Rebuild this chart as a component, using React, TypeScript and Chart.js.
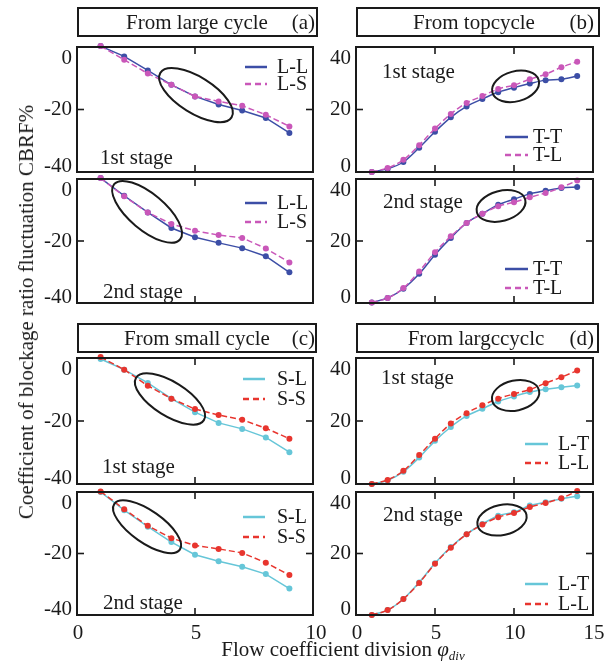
import React, { useEffect, useRef } from "react";
import { Chart, registerables } from "chart.js";
Chart.register(...registerables);

const W = 616;
const H = 668;
const FONT = '"Liberation Serif", "Times New Roman", serif';

// ---- data ----
const xLeft = [1, 2, 3, 4, 5, 6, 7, 8, 9];
const xRight = [1, 2, 3, 4, 5, 6, 7, 8, 9, 10, 11, 12, 13, 14];

// (a) From large cycle
const a1LL = [0.3, -3.0, -7.5, -12.1, -15.8, -18.4, -20.3, -22.7, -27.5];
const a1LS = [0.3, -4.1, -8.5, -12.1, -15.8, -17.4, -18.8, -21.7, -25.4];
const a2LL = [0.3, -5.4, -10.8, -15.8, -18.8, -20.6, -22.3, -24.9, -30.1];
const a2LS = [0.3, -5.6, -10.8, -14.5, -16.7, -18.1, -19.0, -22.4, -26.9];

// (b) From topcycle
const b1TT = [0, 1.0, 3.2, 7.8, 12.9, 17.5, 21.0, 23.4, 25.5, 27.0, 28.3, 29.4, 29.7, 30.7];
const b1TL = [0, 1.3, 3.9, 8.6, 13.9, 18.6, 22.1, 24.3, 26.6, 27.8, 29.7, 31.3, 33.5, 35.3];
const b2TT = [0.2, 1.6, 4.6, 9.4, 15.6, 21.0, 25.8, 28.8, 31.7, 33.5, 35.2, 36.2, 37.1, 37.4];
const b2TL = [0.2, 1.6, 4.8, 10.2, 16.4, 21.5, 25.8, 28.8, 31.2, 32.5, 34.1, 35.5, 37.3, 39.5];

// (c) From small cycle
const c1SL = [-0.3, -3.7, -7.9, -12.9, -17.2, -20.6, -22.5, -25.2, -29.9];
const c1SS = [0.3, -3.7, -8.8, -12.9, -16.2, -18.1, -19.6, -22.3, -25.6];
const c2SL = [0, -5.9, -11.3, -16.3, -20.4, -22.5, -24.3, -26.7, -31.4];
const c2SS = [0.2, -5.6, -11.0, -15.0, -17.4, -18.5, -19.8, -23.0, -27.0];

// (d) From largccyclc
const d1LT = [0, 1.1, 3.9, 8.4, 13.7, 18.1, 21.6, 23.9, 26.2, 27.8, 29.2, 30.1, 30.7, 31.3];
const d1LL = [0, 1.3, 4.2, 9.2, 14.4, 19.2, 22.5, 25.0, 27.1, 28.6, 30.0, 32.0, 33.9, 36.0];
const d2LT = [0, 1.6, 5.2, 10.6, 16.8, 22.1, 26.3, 29.6, 32.3, 33.4, 35.6, 36.7, 37.8, 38.6];
const d2LL = [0, 1.6, 5.2, 10.4, 16.7, 21.9, 26.3, 29.4, 31.8, 33.2, 35.1, 36.4, 38.0, 40.3];

const leftYTicks = [0, -20, -40];
const rightYTicks = [40, 20, 0];
const leftXTicks = [0, 5, 10];
const rightXTicks = [0, 5, 10, 15];

const BLUE = "#3c4ea6";
const MAGENTA = "#c957b9";
const CYAN = "#66c6d8";
const RED = "#e8352e";

type Series = { label: string; x: number[]; y: number[]; color: string; dashed: boolean };
type Panel = {
  l: number; t: number; r: number; b: number;
  xMax: number; yMin: number; yMax: number;
  xTicks: number[]; yTicks: number[];
  showX: boolean;
  series: Series[];
  stage: string; stageX: number; stageY: number;
  leg: { x0: number; x1: number; tx: number; y1: number; y2: number };
  ell: { cx: number; cy: number; a: number; b: number; ang: number };
};

const L = { l: 77, r: 313, xMax: 10, yMin: -40, yMax: 0, xTicks: leftXTicks, yTicks: leftYTicks };
const R = { l: 356, r: 593, xMax: 15, yMin: 0, yMax: 40, xTicks: rightXTicks, yTicks: rightYTicks };
const rows = [
  { t: 47, b: 172 },
  { t: 179, b: 303 },
  { t: 358, b: 484 },
  { t: 492, b: 615 },
];

const panels: Panel[] = [
  {
    ...L, ...rows[0], showX: false,
    series: [
      { label: "L-L", x: xLeft, y: a1LL, color: BLUE, dashed: false },
      { label: "L-S", x: xLeft, y: a1LS, color: MAGENTA, dashed: true },
    ],
    stage: "1st stage", stageX: 100, stageY: 158,
    leg: { x0: 245, x1: 267, tx: 277, y1: 67, y2: 84 },
    ell: { cx: 5.04, cy: -15.4, a: 42, b: 18, ang: 32 },
  },
  {
    ...L, ...rows[1], showX: false,
    series: [
      { label: "L-L", x: xLeft, y: a2LL, color: BLUE, dashed: false },
      { label: "L-S", x: xLeft, y: a2LS, color: MAGENTA, dashed: true },
    ],
    stage: "2nd stage", stageX: 103, stageY: 292,
    leg: { x0: 245, x1: 267, tx: 277, y1: 203, y2: 222 },
    ell: { cx: 2.97, cy: -10.6, a: 43, b: 18, ang: 40 },
  },
  {
    ...L, ...rows[2], showX: false,
    series: [
      { label: "S-L", x: xLeft, y: c1SL, color: CYAN, dashed: false },
      { label: "S-S", x: xLeft, y: c1SS, color: RED, dashed: true },
    ],
    stage: "1st stage", stageX: 102, stageY: 467,
    leg: { x0: 243, x1: 265, tx: 277, y1: 379, y2: 399 },
    ell: { cx: 3.94, cy: -13.0, a: 40, b: 17, ang: 32 },
  },
  {
    ...L, ...rows[3], showX: true,
    series: [
      { label: "S-L", x: xLeft, y: c2SL, color: CYAN, dashed: false },
      { label: "S-S", x: xLeft, y: c2SS, color: RED, dashed: true },
    ],
    stage: "2nd stage", stageX: 103, stageY: 603,
    leg: { x0: 243, x1: 265, tx: 277, y1: 517, y2: 537 },
    ell: { cx: 2.97, cy: -11.3, a: 40, b: 16, ang: 35 },
  },
  {
    ...R, ...rows[0], showX: false,
    series: [
      { label: "T-T", x: xRight, y: b1TT, color: BLUE, dashed: false },
      { label: "T-L", x: xRight, y: b1TL, color: MAGENTA, dashed: true },
    ],
    stage: "1st stage", stageX: 382, stageY: 72,
    leg: { x0: 505, x1: 528, tx: 533, y1: 137, y2: 155 },
    ell: { cx: 10.1, cy: 27.4, a: 24, b: 15, ang: -15 },
  },
  {
    ...R, ...rows[1], showX: false,
    series: [
      { label: "T-T", x: xRight, y: b2TT, color: BLUE, dashed: false },
      { label: "T-L", x: xRight, y: b2TL, color: MAGENTA, dashed: true },
    ],
    stage: "2nd stage", stageX: 383, stageY: 202,
    leg: { x0: 505, x1: 528, tx: 533, y1: 269, y2: 288 },
    ell: { cx: 9.18, cy: 31.3, a: 25, b: 15, ang: -15 },
  },
  {
    ...R, ...rows[2], showX: false,
    series: [
      { label: "L-T", x: xRight, y: d1LT, color: CYAN, dashed: false },
      { label: "L-L", x: xRight, y: d1LL, color: RED, dashed: true },
    ],
    stage: "1st stage", stageX: 381, stageY: 378,
    leg: { x0: 525, x1: 548, tx: 558, y1: 444, y2: 463 },
    ell: { cx: 10.1, cy: 28.1, a: 24, b: 15, ang: -12 },
  },
  {
    ...R, ...rows[3], showX: true,
    series: [
      { label: "L-T", x: xRight, y: d2LT, color: CYAN, dashed: false },
      { label: "L-L", x: xRight, y: d2LL, color: RED, dashed: true },
    ],
    stage: "2nd stage", stageX: 383, stageY: 515,
    leg: { x0: 525, x1: 548, tx: 558, y1: 584, y2: 604 },
    ell: { cx: 9.24, cy: 30.9, a: 25, b: 15, ang: -12 },
  },
];

const DASH = [6, 3];

function makeDecor(p: Panel) {
  return {
    id: "decor",
    afterDatasetsDraw(chart: any) {
      const ctx: CanvasRenderingContext2D = chart.ctx;
      const xs = chart.scales.x;
      const ys = chart.scales.y;
      const { left, right, top, bottom } = chart.chartArea;
      ctx.save();
      ctx.strokeStyle = "#1a1a1a";
      ctx.fillStyle = "#1a1a1a";
      ctx.setLineDash([]);
      const line = (x0: number, y0: number, x1: number, y1: number) => {
        ctx.beginPath();
        ctx.moveTo(x0, y0);
        ctx.lineTo(x1, y1);
        ctx.stroke();
      };
      // ellipse
      ctx.lineWidth = 2;
      ctx.beginPath();
      ctx.ellipse(
        xs.getPixelForValue(p.ell.cx),
        ys.getPixelForValue(p.ell.cy),
        p.ell.a, p.ell.b, (p.ell.ang * Math.PI) / 180, 0, Math.PI * 2
      );
      ctx.stroke();
      // inward ticks
      ctx.lineWidth = 1.6;
      p.xTicks.forEach((v) => {
        if (v <= 0 || v >= p.xMax) return;
        const x = xs.getPixelForValue(v);
        line(x, top, x, top + 7);
        line(x, bottom, x, bottom - 7);
      });
      p.yTicks.forEach((v) => {
        if (v <= p.yMin || v >= p.yMax) return;
        const y = ys.getPixelForValue(v);
        line(left, y, left + 7, y);
        line(right, y, right - 7, y);
      });
      // frame
      ctx.lineWidth = 2;
      ctx.strokeRect(left, top, right - left, bottom - top);
      // y tick labels (end labels nudged inward)
      ctx.font = `21px ${FONT}`;
      ctx.textAlign = "right";
      ctx.textBaseline = "middle";
      p.yTicks.forEach((v) => {
        let y = ys.getPixelForValue(v);
        if (v === p.yMax) y += 11;
        else if (v === p.yMin) y -= 6;
        ctx.fillText(String(v), left - 5, y);
      });
      // x tick labels
      if (p.showX) {
        ctx.textAlign = "center";
        p.xTicks.forEach((v) => {
          ctx.fillText(String(v), xs.getPixelForValue(v) + (v === p.xMax && p.xMax === 10 ? 3 : 1), bottom + 18);
        });
      }
      // stage label
      ctx.textAlign = "left";
      ctx.font = `21px ${FONT}`;
      ctx.fillText(p.stage, p.stageX, p.stageY);
      // legend
      const ly = [p.leg.y1, p.leg.y2];
      p.series.forEach((s, i) => {
        ctx.strokeStyle = s.color;
        ctx.lineWidth = 2.5;
        ctx.setLineDash(s.dashed ? [6, 4] : []);
        line(p.leg.x0, ly[i], p.leg.x1, ly[i]);
        ctx.setLineDash([]);
        ctx.fillStyle = "#1a1a1a";
        ctx.font = `20px ${FONT}`;
        ctx.fillText(s.label, p.leg.tx, ly[i] + 1);
      });
      ctx.restore();
    },
  };
}

function PanelChart({ p }: { p: Panel }) {
  const ref = useRef<HTMLCanvasElement>(null);
  useEffect(() => {
    if (!ref.current) return;
    const smooth = p.xMax === 15;
    const chart = new Chart(ref.current, {
      type: "line",
      data: {
        datasets: p.series.map((s) => ({
          label: s.label,
          data: s.x.map((x, k) => ({ x, y: s.y[k] })),
          borderColor: s.color,
          backgroundColor: s.color,
          borderWidth: 1.5,
          borderDash: s.dashed ? DASH : [],
          pointRadius: 3,
          pointBorderWidth: 0,
          pointBackgroundColor: s.color,
          tension: smooth ? 0.4 : 0,
          cubicInterpolationMode: smooth ? "monotone" : "default",
          clip: false,
          order: s.dashed ? 0 : 1,
        })),
      } as any,
      options: {
        responsive: false,
        animation: false,
        events: [],
        layout: { padding: { left: p.l, top: p.t, right: W - p.r, bottom: H - p.b } },
        scales: {
          x: { type: "linear", min: 0, max: p.xMax, display: false },
          y: { type: "linear", min: p.yMin, max: p.yMax, display: false },
        },
        plugins: { legend: { display: false }, tooltip: { enabled: false } },
      },
      plugins: [makeDecor(p)],
    } as any);
    return () => chart.destroy();
  }, [p]);
  return (
    <canvas
      ref={ref}
      width={W}
      height={H}
      style={{ position: "absolute", left: 0, top: 0, width: W, height: H }}
    />
  );
}

const headers = [
  { l: 77, t: 7, r: 318, b: 37, title: "From large cycle", cx: 197, tag: "(a)", tr: 315 },
  { l: 356, t: 7, r: 600, b: 37, title: "From topcycle", cx: 474, tag: "(b)", tr: 594 },
  { l: 77, t: 323, r: 317, b: 353, title: "From small cycle", cx: 197, tag: "(c)", tr: 315 },
  { l: 356, t: 323, r: 599, b: 353, title: "From largccyclc", cx: 476, tag: "(d)", tr: 594 },
];

export default function App() {
  return (
    <div
      style={{
        position: "fixed", left: 0, top: 0, width: W, height: H,
        background: "#fff", fontFamily: FONT, color: "#1a1a1a", overflow: "hidden",
      }}
    >
      {panels.map((p, i) => (
        <PanelChart key={i} p={p} />
      ))}
      {headers.map((h, i) => (
        <React.Fragment key={i}>
          <div
            style={{
              position: "absolute", left: h.l, top: h.t, width: h.r - h.l, height: h.b - h.t,
              border: "2px solid #1a1a1a", boxSizing: "border-box",
            }}
          />
          <div
            style={{
              position: "absolute", left: h.cx, top: h.t, height: h.b - h.t, lineHeight: `${h.b - h.t}px`,
              transform: "translateX(-50%)", fontSize: 21, whiteSpace: "nowrap",
            }}
          >
            {h.title}
          </div>
          <div
            style={{
              position: "absolute", right: W - h.tr, top: h.t, height: h.b - h.t, lineHeight: `${h.b - h.t}px`,
              fontSize: 21, whiteSpace: "nowrap",
            }}
          >
            {h.tag}
          </div>
        </React.Fragment>
      ))}
      <div
        style={{
          position: "absolute", left: 26, top: 312, transform: "translate(-50%, -50%) rotate(-90deg)",
          fontSize: 21, whiteSpace: "nowrap", lineHeight: "24px",
        }}
      >
        Coefficient of blockage ratio fluctuation CBRF%
      </div>
      <div
        style={{
          position: "absolute", left: 343, top: 652, transform: "translate(-50%, -50%)",
          fontSize: 21, whiteSpace: "nowrap", lineHeight: "24px",
        }}
      >
        Flow coefficient division <i>φ</i>
        <sub style={{ fontSize: 13, fontStyle: "italic", verticalAlign: "-4px" }}>div</sub>
      </div>
    </div>
  );
}
